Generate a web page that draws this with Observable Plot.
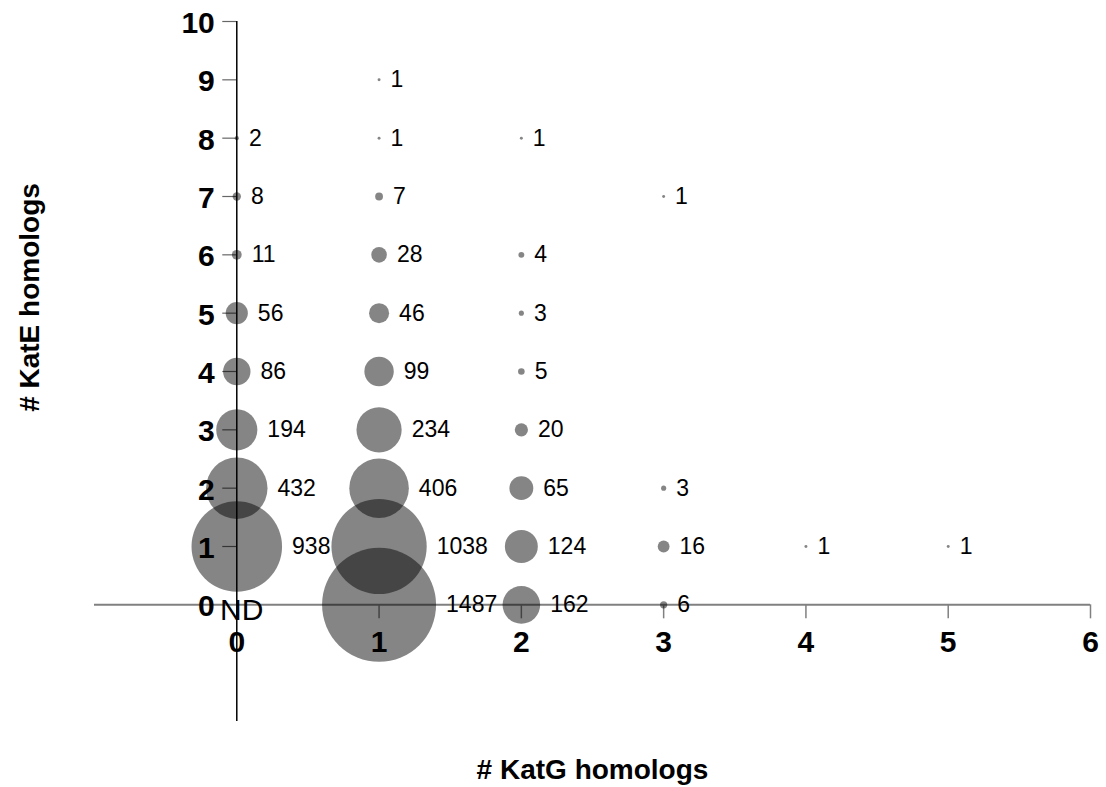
<!DOCTYPE html>
<html>
<head>
<meta charset="utf-8">
<script src="https://cdn.jsdelivr.net/npm/d3@7"></script>
<script src="https://cdn.jsdelivr.net/npm/@observablehq/plot@0.6"></script>
<style>
  html, body { margin: 0; padding: 0; background: #fff; }
  #chart svg { display: block; }
</style>
</head>
<body>
<div id="chart"></div>
<script>
// Number of KatG homologs (x), KatE homologs (y) and genome counts
const katG   = [0, 0, 0, 0, 0, 0, 0, 0,
                1, 1, 1, 1, 1, 1, 1, 1, 1, 1,
                2, 2, 2, 2, 2, 2, 2, 2,
                3, 3, 3, 3,
                4,
                5];
const katE   = [1, 2, 3, 4, 5, 6, 7, 8,
                0, 1, 2, 3, 4, 5, 6, 7, 8, 9,
                0, 1, 2, 3, 4, 5, 6, 8,
                0, 1, 2, 7,
                1,
                1];
const counts = [938, 432, 194, 86, 56, 11, 8, 2,
                1487, 1038, 406, 234, 99, 46, 28, 7, 1, 1,
                162, 124, 65, 20, 5, 3, 4, 1,
                6, 16, 3, 1,
                1,
                1];
const xTicks = [0, 1, 2, 3, 4, 5, 6];
const yTicks = [0, 1, 2, 3, 4, 5, 6, 7, 8, 9, 10];
const notes  = [{x: 0, y: 0, text: "ND"}];
const xTitle = "# KatG homologs";
const yTitle = "# KatE homologs";

const data = counts.map((n, i) => ({g: katG[i], e: katE[i], n}));

const W = 1106, H = 787;
const mL = 94, mR = 16, mT = 21, mB = 66;
const xDom = [-1, 6], yDom = [-2, 10];
const pxX = (W - mL - mR) / (xDom[1] - xDom[0]);
const pxY = (H - mT - mB) / (yDom[1] - yDom[0]);
const rMax = 57, nMax = d3.max(counts);
const rOf = v => rMax * Math.sqrt(v / nMax);
const tickLen = 14;
const font = "'Liberation Sans', Arial, Helvetica, sans-serif";

const chart = Plot.plot({
  width: W, height: H,
  marginLeft: mL, marginRight: mR, marginTop: mT, marginBottom: mB,
  style: {fontFamily: font, background: "#fff"},
  x: {domain: xDom, axis: null},
  y: {domain: yDom, axis: null},
  r: {type: "sqrt", domain: [0, nMax], range: [0, rMax]},
  marks: [
    Plot.ruleY([0], {x1: xDom[0], x2: xTicks[xTicks.length - 1], stroke: "#808080", strokeWidth: 2}),
    Plot.ruleX(xTicks.filter(d => d > 0), {x: d => d, y1: 0, y2: -tickLen / pxY, stroke: "#808080", strokeWidth: 1.5}),
    Plot.ruleY(yTicks.filter(d => d > 0), {y: d => d, x1: -tickLen / pxX, x2: 0, stroke: "#666", strokeWidth: 1.2}),
    Plot.ruleX([0], {y1: yDom[0], y2: yTicks[yTicks.length - 1], stroke: "#000", strokeWidth: 1.5}),
    Plot.dot(data, {x: "g", y: "e", r: "n", fill: "#000", fillOpacity: 0.48, stroke: "none"}),
    Plot.text(data, {
      x: d => d.g + (rOf(d.n) + 10) / pxX, y: "e", text: d => String(d.n),
      textAnchor: "start", fontSize: 23, fill: "#000"
    }),
    Plot.text(yTicks, {x: 0, y: d => d, text: d => String(d), textAnchor: "end", dx: -22, dy: 2, fontSize: 30, fontWeight: "bold", fill: "#000"}),
    Plot.text(xTicks, {x: d => d, y: 0, text: d => String(d), dy: 38, fontSize: 30, fontWeight: "bold", fill: "#000"}),
    Plot.text(notes, {x: "x", y: "y", text: "text", dx: 5, dy: 6, fontSize: 30, fill: "#000"}),
    Plot.text([xTitle], {frameAnchor: "bottom", text: d => d, textAnchor: "middle", lineAnchor: "middle", dy: 49, fontSize: 28, fontWeight: "bold", fill: "#000"}),
    Plot.text([yTitle], {frameAnchor: "left", text: d => d, textAnchor: "middle", lineAnchor: "middle", dx: -64, dy: -74, rotate: -90, fontSize: 28, fontWeight: "bold", fill: "#000"})
  ]
});
document.getElementById("chart").appendChild(chart);
</script>
</body>
</html>
